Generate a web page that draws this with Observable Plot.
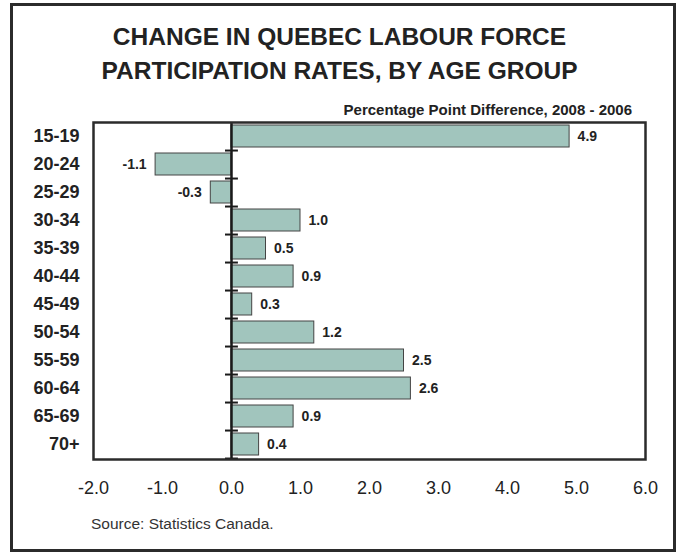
<!DOCTYPE html>
<html>
<head>
<meta charset="utf-8">
<script src="https://cdn.jsdelivr.net/npm/d3@7"></script>
<script src="https://cdn.jsdelivr.net/npm/@observablehq/plot@0.6"></script>
<style>
  html, body { margin: 0; padding: 0; background: #fff; }
  body { width: 679px; height: 554px; position: relative; overflow: hidden; font-family: "Liberation Sans", Arial, Helvetica, sans-serif; color: #222; }
  #chart { position: absolute; left: 0; top: 0; }
  .box { position: absolute; left: 10px; top: 3px; width: 666px; height: 549px; border: 3px solid #2b2b2b; box-sizing: border-box; pointer-events: none; }
  .title { position: absolute; left: 0; top: 20px; width: 679px; text-align: center; font-weight: bold; font-size: 24.5px; line-height: 34px; color: #222; }
  .subtitle { position: absolute; right: 47px; top: 102px; font-weight: bold; font-size: 15px; line-height: 1; white-space: nowrap; color: #222; }
  .source { position: absolute; left: 91px; top: 516px; font-size: 15.5px; line-height: 1; white-space: nowrap; color: #333; }
</style>
</head>
<body>
<div id="chart"></div>
<div class="box"></div>
<div class="title">CHANGE IN QUEBEC LABOUR FORCE<br>PARTICIPATION RATES, BY AGE GROUP</div>
<div class="subtitle">Percentage Point Difference, 2008 - 2006</div>
<div class="source">Source: Statistics Canada.</div>
<script>
const ages = ["15-19","20-24","25-29","30-34","35-39","40-44","45-49","50-54","55-59","60-64","65-69","70+"];
const changes = [4.9,-1.1,-0.3,1.0,0.5,0.9,0.3,1.2,2.5,2.6,0.9,0.4];
const xTicks = [-2,-1,0,1,2,3,4,5,6];

const rows = ages.map((a, i) => ({age: a, value: changes[i]}));

const W = 679, H = 554;
const mTop = 122, mBottom = H - 459, mLeft = 93, mRight = W - 645;
const step = (H - mTop - mBottom) / ages.length;

const chart = Plot.plot({
  width: W,
  height: H,
  marginTop: mTop,
  marginBottom: mBottom,
  marginLeft: mLeft,
  marginRight: mRight,
  style: {fontFamily: "'Liberation Sans', Arial, Helvetica, sans-serif", fontSize: "14px", color: "#222", background: "transparent", overflow: "visible"},
  x: {domain: [-2, 6], axis: null, label: null},
  y: {domain: ages, paddingInner: 0.21, paddingOuter: 0.105, axis: null, label: null},
  marks: [
    Plot.barX(rows, {x: "value", y: "age", fill: "#a1c5bd", stroke: "#444", strokeWidth: 1}),
    Plot.ruleY(ages, {y: d => d, x1: -0.087, x2: 0.1, dy: step / 2, stroke: "#1a1a1a", strokeWidth: 2}),
    Plot.ruleX([0], {stroke: "#1a1a1a", strokeWidth: 2.5}),
    Plot.frame({stroke: "#2b2b2b", strokeWidth: 2.5}),
    Plot.text(rows.filter(d => d.value >= 0), {x: "value", y: "age", text: d => d.value.toFixed(1), textAnchor: "start", dx: 8, fontWeight: "bold", fontSize: 14, fill: "#222"}),
    Plot.text(rows.filter(d => d.value < 0), {x: "value", y: "age", text: d => d.value.toFixed(1), textAnchor: "end", dx: -9, fontWeight: "bold", fontSize: 14, fill: "#222"}),
    Plot.axisX({ticks: xTicks, tickFormat: d => d.toFixed(1), tickSize: 0, tickPadding: 22, fontSize: 18, fill: "#222", anchor: "bottom", label: null}),
    Plot.axisY({tickSize: 0, tickPadding: 14, fontSize: 18, fontWeight: "bold", fill: "#222", anchor: "left", label: null})
  ]
});
document.getElementById("chart").appendChild(chart);
</script>
</body>
</html>
